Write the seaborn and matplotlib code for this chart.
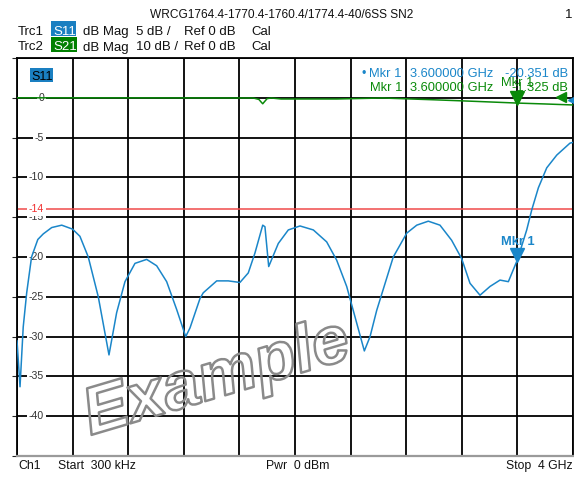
import numpy as np
import pandas as pd
import matplotlib
matplotlib.use("Agg")
import matplotlib.pyplot as plt
import matplotlib.patheffects as pe
import seaborn as sns
from matplotlib import transforms
from matplotlib.patches import Rectangle

# ---------------- data ----------------
title = "WRCG1764.4-1770.4-1760.4/1774.4-40/6SS SN2"

s11_freq_ghz = [0.0003, 0.022, 0.045, 0.070, 0.105, 0.150, 0.189, 0.250, 0.322, 0.400, 0.453,
                0.513, 0.585, 0.662, 0.717, 0.777, 0.849, 0.933, 1.005, 1.077, 1.149, 1.214,
                1.245, 1.317, 1.340, 1.437, 1.520, 1.604, 1.664, 1.712, 1.768, 1.784, 1.811,
                1.880, 1.952, 2.036, 2.132, 2.228, 2.300, 2.372, 2.444, 2.499, 2.540, 2.588,
                2.707, 2.804, 2.876, 2.959, 3.043, 3.127, 3.199, 3.259, 3.331, 3.403, 3.475,
                3.535, 3.600, 3.667, 3.703, 3.751, 3.811, 3.883, 3.978, 4.000]
s11_db = [-30.5, -36.3, -28.8, -24.5, -20.0, -17.8, -17.1, -16.3, -16.0, -16.5, -17.4,
          -20.0, -25.0, -32.3, -27.0, -23.1, -20.8, -20.3, -21.1, -23.1, -26.6, -30.0,
          -28.9, -25.2, -24.5, -23.0, -23.0, -23.2, -22.0, -19.5, -16.0, -16.2, -21.2,
          -18.3, -16.6, -16.1, -16.6, -18.1, -20.4, -23.7, -28.3, -31.8, -30.0, -26.7,
          -20.0, -17.0, -16.0, -15.5, -16.0, -17.9, -20.2, -23.3, -24.8, -23.7, -22.9,
          -23.1, -20.351, -16.6, -14.1, -11.3, -8.8, -7.2, -5.7, -5.6]

s21_freq_ghz = [0.0003, 1.000, 1.700, 1.740, 1.760, 1.768, 1.780, 1.800, 1.830, 1.900,
                2.300, 2.630, 3.000, 3.300, 3.600, 3.800, 4.000]
s21_db = [0.0, -0.02, -0.05, -0.4, -1.2, -1.5, -1.0, -0.2, -0.05, -0.3,
          -0.3, -0.05, -0.5, -0.9, -1.325, -1.55, -1.8]

limit_db = -14
y_tick_vals = [0, -5, -10, -15, -20, -25, -30, -35, -40]
marker_freq = 3.6
mkr_s11_text = "-20.351 dB"
mkr_s21_text = "-1.325 dB"

# ---------------- style ----------------
sns.set_style("white")
FAM = "Liberation Sans"
plt.rcParams["font.family"] = [FAM, "DejaVu Sans"]

W, H = 574, 479
fig = plt.figure(figsize=(W / 100, H / 100), dpi=100)
fig.patch.set_facecolor("white")

def fx(x):
    return x / W

def fy(y):
    return 1 - y / H

L, R, T, B = 17, 573, 58, 456
ax = fig.add_axes([fx(L), fy(B), (R - L) / W, (B - T) / H])

BLUE = "#1a86c9"
GREEN = "#0a8a0a"
TXT = "#111111"

df11 = pd.DataFrame({"f": s11_freq_ghz, "db": s11_db})
df21 = pd.DataFrame({"f": s21_freq_ghz, "db": s21_db})

ax.set_xlim(0.0003, 4.0)
ax.set_ylim(-45, 5)
ax.set_xticks(np.linspace(0.0003, 4.0, 11))
ax.set_yticks(np.arange(-45, 6, 5))
ax.grid(True, color="black", lw=1.3)
ax.set_axisbelow(True)
ax.tick_params(left=False, bottom=False, labelleft=False, labelbottom=False)
for s in ["left", "top", "right"]:
    ax.spines[s].set_color("black")
    ax.spines[s].set_linewidth(1.3)
ax.spines["bottom"].set_color("#9a9a9a")
ax.spines["bottom"].set_linewidth(1.6)

# limit line
ax.axhline(limit_db, color="#f04a4a", lw=1.1, zorder=1.2)

# y labels inside the plot
blend = transforms.blended_transform_factory(ax.transAxes, ax.transData)
lab_x = (44 - L) / (R - L)
for v in y_tick_vals:
    ax.text(lab_x, v, f"{v}", transform=blend, ha="right", va="center", fontsize=7.6,
            color="#333333", zorder=1.5,
            bbox=dict(boxstyle="square,pad=0.15", fc="white", ec="none"))
ax.text(lab_x, limit_db, f"{limit_db}", transform=blend, ha="right", va="center", fontsize=7.6,
        color="#f03030", zorder=1.6,
        bbox=dict(boxstyle="square,pad=0.15", fc="white", ec="none"))

# S11 trace
sns.lineplot(data=df11, x="f", y="db", ax=ax, color=BLUE, lw=1.1, estimator=None, zorder=3)
ax.set_xlabel("")
ax.set_ylabel("")

# S21 trace on its own scale (10 dB/div, ref 0 dB)
ax2 = ax.twinx()
ax2.set_ylim(-90, 10)
sns.lineplot(data=df21, x="f", y="db", ax=ax2, color=GREEN, lw=1.1, estimator=None, zorder=3)
ax2.set_xlim(0.0003, 4.0)
ax2.set_yticks([])
ax2.set_ylabel("")
ax2.set_xlabel("")
for s in ax2.spines.values():
    s.set_visible(False)

# markers
m11 = float(np.interp(marker_freq, s11_freq_ghz, s11_db))
m21 = float(np.interp(marker_freq, s21_freq_ghz, s21_db))
off = transforms.offset_copy(ax.transData, fig=fig, x=0, y=5, units="dots")
ax.plot([marker_freq], [m11], marker="v", ms=10, color=BLUE, transform=off, zorder=4, clip_on=False)
off2 = transforms.offset_copy(ax2.transData, fig=fig, x=0, y=5, units="dots")
ax2.plot([marker_freq], [m21], marker="v", ms=10, color=GREEN, transform=off2, zorder=4, clip_on=False)

# reference arrows at right edge
ax2.plot([1.0], [0.0], marker="<", ms=7, color=GREEN, clip_on=False, zorder=5,
         transform=transforms.offset_copy(
             transforms.blended_transform_factory(ax2.transAxes, ax2.transData),
             fig=fig, x=-12, y=1, units="dots"))
ax.plot([1.0], [0.0], marker="<", ms=9, color=BLUE, clip_on=False, zorder=5,
        transform=transforms.offset_copy(
            transforms.blended_transform_factory(ax.transAxes, ax.transData),
            fig=fig, x=1, y=-2, units="dots"))

# ---------------- texts ----------------
def t(x, y, s, **kw):
    kw.setdefault("fontsize", 9.5)
    kw.setdefault("color", TXT)
    kw.setdefault("va", "baseline")
    fig.text(fx(x), fy(y), s, **kw)

t(281.5, 18.3, title, ha="center", fontsize=8.6)
t(572, 18.3, "1", ha="right")

fig.patches.append(Rectangle((fx(51), fy(36)), (76 - 51) / W, (36 - 20.7) / H,
                             transform=fig.transFigure, fc="#1a7fc1", ec="none"))
fig.patches.append(Rectangle((fx(51), fy(52.3)), (77 - 51) / W, (52.3 - 37) / H,
                             transform=fig.transFigure, fc="#008000", ec="none"))
for yb, trc, sp, scale in [(35.0, "Trc1", "S11", "5 dB /"), (50.5, "Trc2", "S21", "10 dB /")]:
    t(17.7, yb, trc)
    t(53, yb, sp, color="white")
    t(83.3, yb, "dB Mag")
    t(135.7, yb, scale)
    t(184.3, yb, "Ref 0 dB")
    t(251.7, yb, "Cal")

# in-plot S11 tag
fig.patches.append(Rectangle((fx(30), fy(82)), (53 - 30) / W, (82 - 68) / H,
                             transform=fig.transFigure, fc="#1a7fc1", ec="none", zorder=5))
t(31.5, 80, "S11", color="black", zorder=6, fontsize=9)

# marker info block
t(362, 77, "\u2022", color=BLUE, fontsize=9)
t(369, 77, "Mkr 1", color=BLUE, fontsize=9.3)
t(410, 77, "3.600000 GHz", color=BLUE, fontsize=9.3)
t(568, 77, mkr_s11_text, color=BLUE, ha="right", fontsize=9.3)
t(370, 91, "Mkr 1", color=GREEN, fontsize=9.3)
t(410, 91, "3.600000 GHz", color=GREEN, fontsize=9.3)
t(568, 91, mkr_s21_text, color=GREEN, ha="right", fontsize=9.3)
t(517.5, 86, "Mkr 1", color=GREEN, ha="center", fontsize=9.3)
t(518, 245, "Mkr 1", color=BLUE, ha="center", fontweight="bold", fontsize=9.3)

# bottom
t(18.3, 469.3, "Ch1", fontsize=8.8)
t(57.5, 469.3, "Start  300 kHz", fontsize=8.8)
t(266.5, 469.3, "Pwr  0 dBm", fontsize=8.8)
t(572.8, 469.3, "Stop  4 GHz", fontsize=8.8, ha="right")

# watermark (hollow outlined text)
fig.text(fx(217), fy(380), "Example", fontsize=48, family="Liberation Sans",
         fontweight="bold", fontstyle="italic", rotation=16.5, rotation_mode="anchor",
         ha="center", va="center", color="none", zorder=10,
         path_effects=[pe.Stroke(linewidth=1.8, foreground="#8a8a8a")])

fig.savefig("out.png", dpi=100, facecolor="white")
